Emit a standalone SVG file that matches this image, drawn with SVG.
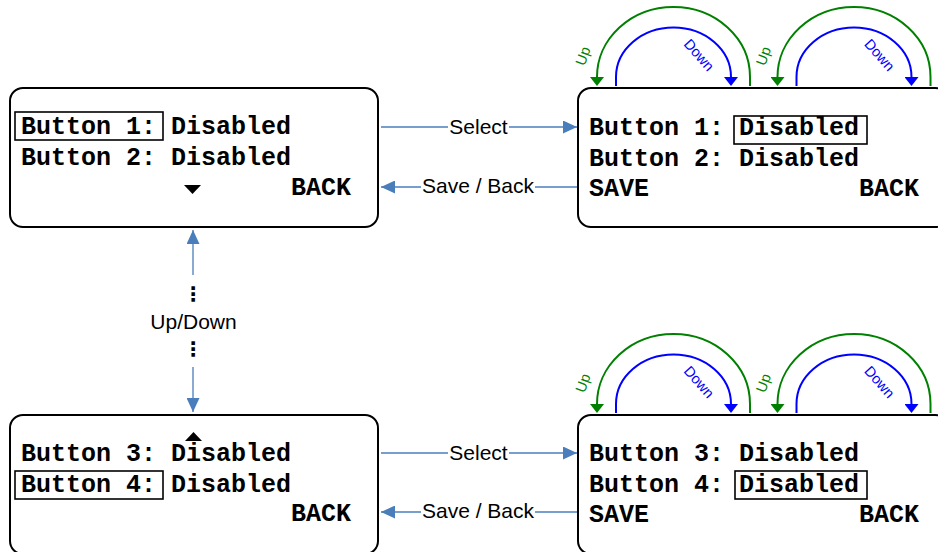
<svg xmlns="http://www.w3.org/2000/svg" width="938" height="552" viewBox="0 0 938 552">
<style>
.box{fill:#fff;stroke:#000;stroke-width:2}
.hl{fill:none;stroke:#000;stroke-width:1.6}
.mono{font-family:"Liberation Mono","Courier New",monospace;font-weight:bold;font-size:25px;fill:#000}
.lbl{font-family:"Liberation Sans",Arial,sans-serif;font-size:21px;fill:#000}
.dots{font-family:"DejaVu Sans",sans-serif;font-weight:bold;font-size:20px;fill:#000}
.conn{stroke:#4a7ebb;stroke-width:1.3;fill:none}
.g{stroke:#008000;stroke-width:2;fill:none;marker-end:url(#ag)}
.b{stroke:#0000ff;stroke-width:2;fill:none;marker-end:url(#ab)}
.gt{font-family:"Liberation Sans",Arial,sans-serif;font-size:14.5px;fill:#008000}
.bt{font-family:"Liberation Sans",Arial,sans-serif;font-size:14.5px;fill:#0000ff}
</style>
<defs>
<marker id="ac" viewBox="0 0 14 13" refX="14" refY="6.5" markerWidth="14" markerHeight="13" markerUnits="userSpaceOnUse" orient="auto"><path d="M0,0 L14,6.5 L0,13 z" fill="#4a7ebb"/></marker>
<marker id="ag" viewBox="0 0 9 14" refX="0" refY="7" markerWidth="9" markerHeight="14" markerUnits="userSpaceOnUse" orient="auto"><path d="M0,0 L9,7 L0,14 z" fill="#008000"/></marker>
<marker id="ab" viewBox="0 0 9 14" refX="0" refY="7" markerWidth="9" markerHeight="14" markerUnits="userSpaceOnUse" orient="auto"><path d="M0,0 L9,7 L0,14 z" fill="#0000ff"/></marker>
<g id="arcpair">
<path class="g" d="M750,86 L750,77 A76.5 70 0 0 0 597,77"/>
<path class="b" d="M616,86 L616,77 A57.5 49.5 0 0 1 731,77"/>
<text class="gt" text-anchor="middle" transform="translate(583,56) rotate(-70)" y="5">Up</text>
<text class="bt" text-anchor="middle" transform="translate(699,55) rotate(48)" y="5">Down</text>
</g>
</defs>

<g id="connectors">
<line class="conn" x1="381" y1="127" x2="577" y2="127" marker-end="url(#ac)"/>
<rect x="448" y="115" width="61" height="22" fill="#fff"/>
<text class="lbl" x="478.5" y="134" text-anchor="middle">Select</text>
<line class="conn" x1="577" y1="187" x2="381" y2="187" marker-end="url(#ac)"/>
<rect x="421" y="174" width="114" height="22" fill="#fff"/>
<text class="lbl" x="478" y="193" text-anchor="middle">Save / Back</text>

<line class="conn" x1="381" y1="453" x2="577" y2="453" marker-end="url(#ac)"/>
<rect x="448" y="441" width="61" height="22" fill="#fff"/>
<text class="lbl" x="478.5" y="460" text-anchor="middle">Select</text>
<line class="conn" x1="577" y1="512" x2="381" y2="512" marker-end="url(#ac)"/>
<rect x="421" y="499" width="114" height="22" fill="#fff"/>
<text class="lbl" x="478" y="518" text-anchor="middle">Save / Back</text>

<line class="conn" x1="193" y1="275" x2="193" y2="230" marker-end="url(#ac)"/>
<line class="conn" x1="193" y1="367" x2="193" y2="412" marker-end="url(#ac)"/>
<text class="lbl" x="193.5" y="329" text-anchor="middle">Up/Down</text>
<text class="dots" x="193" y="301" text-anchor="middle">⋮</text>
<text class="dots" x="193" y="356" text-anchor="middle">⋮</text>

<use href="#arcpair"/>
<use href="#arcpair" transform="translate(180.5,0)"/>
<use href="#arcpair" transform="translate(0,327)"/>
<use href="#arcpair" transform="translate(180.5,327)"/>
</g>

<g id="screen1">
<rect class="box" x="10" y="88" width="368" height="139" rx="13"/>
<rect class="hl" x="15" y="112" width="148" height="28"/>
<text class="mono" x="21" y="134">Button 1: Disabled</text>
<text class="mono" x="21" y="165">Button 2: Disabled</text>
<text class="mono" x="291" y="195">BACK</text>
<polygon points="184,185 201,185 192.5,194" fill="#000"/>
</g>

<g id="screen2">
<rect class="box" x="578" y="88" width="370" height="139" rx="13"/>
<rect class="hl" x="734" y="116" width="133" height="28"/>
<text class="mono" x="589" y="135">Button 1: Disabled</text>
<text class="mono" x="589" y="166">Button 2: Disabled</text>
<text class="mono" x="589" y="196">SAVE</text>
<text class="mono" x="859" y="196">BACK</text>
</g>

<g id="screen3">
<rect class="box" x="10" y="415" width="368" height="139" rx="13"/>
<rect class="hl" x="15" y="471" width="148" height="28"/>
<text class="mono" x="21" y="461">Button 3: Disabled</text>
<text class="mono" x="21" y="492">Button 4: Disabled</text>
<text class="mono" x="291" y="521">BACK</text>
<polygon points="185,441 202,441 193.5,432" fill="#000"/>
</g>

<g id="screen4">
<rect class="box" x="578" y="415" width="370" height="139" rx="13"/>
<rect class="hl" x="735" y="471" width="132" height="28"/>
<text class="mono" x="589" y="461">Button 3: Disabled</text>
<text class="mono" x="589" y="492">Button 4: Disabled</text>
<text class="mono" x="589" y="522">SAVE</text>
<text class="mono" x="859" y="522">BACK</text>
</g>
</svg>
